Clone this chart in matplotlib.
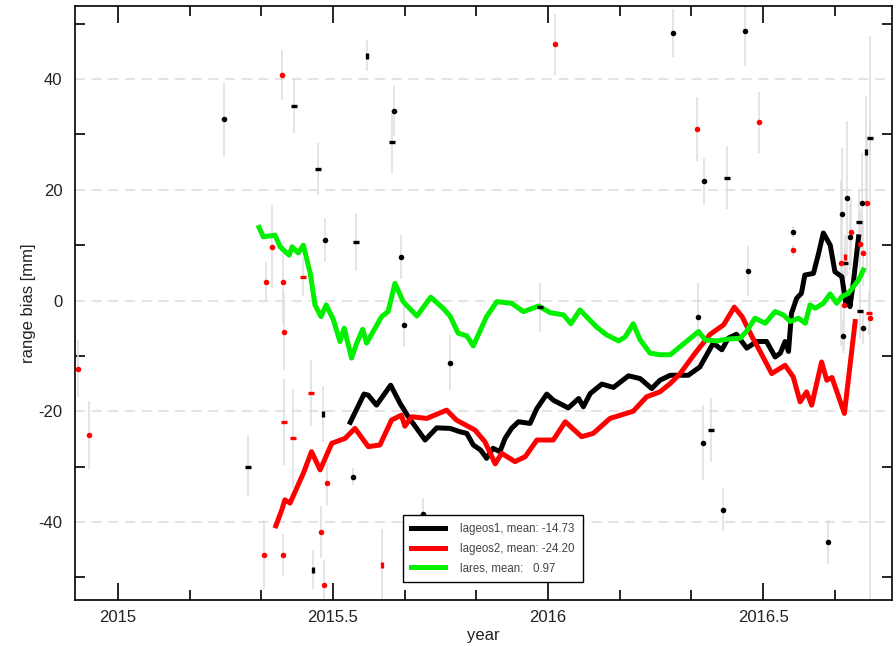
import matplotlib
matplotlib.use("Agg")
import matplotlib.pyplot as plt
from matplotlib.ticker import MultipleLocator

plt.rcParams['font.family'] = ['Liberation Sans', 'DejaVu Sans']
plt.rcParams['axes.unicode_minus'] = False

# running-mean range bias curves (year, mm)
t_lageos1 = [2015.540, 2015.572, 2015.582, 2015.601, 2015.634, 2015.656, 2015.675, 2015.714,
             2015.741, 2015.772, 2015.795, 2015.811, 2015.826, 2015.843, 2015.857, 2015.872,
             2015.888, 2015.900, 2015.915, 2015.931, 2015.958, 2015.974, 2015.997, 2016.012,
             2016.047, 2016.071, 2016.082, 2016.098, 2016.125, 2016.152, 2016.187, 2016.214,
             2016.241, 2016.260, 2016.284, 2016.326, 2016.353, 2016.384, 2016.404, 2016.419,
             2016.438, 2016.462, 2016.485, 2016.508, 2016.528, 2016.540, 2016.551, 2016.559,
             2016.566, 2016.578, 2016.589, 2016.597, 2016.617, 2016.628, 2016.640, 2016.656,
             2016.667, 2016.683, 2016.693, 2016.698, 2016.702, 2016.710, 2016.722]
v_lageos1 = [-22.0, -16.9, -17.1, -18.9, -15.3, -18.6, -21.0, -25.2,
             -23.0, -23.1, -23.7, -24.0, -26.1, -27.0, -28.5, -26.7,
             -27.3, -24.9, -23.1, -21.9, -22.2, -19.5, -16.9, -18.0,
             -19.4, -17.7, -19.2, -16.8, -15.1, -15.7, -13.6, -14.1,
             -15.9, -14.4, -13.5, -13.5, -12.0, -7.7, -8.9, -6.8,
             -6.1, -8.6, -7.4, -7.4, -10.2, -9.5, -7.4, -9.2,
             -2.3, 0.4, 1.3, 4.6, 4.9, 8.2, 12.2, 10.0,
             5.2, 4.3, -0.8, 0.7, -1.1, 3.4, 11.5]

t_lageos2 = [2015.367, 2015.381, 2015.388, 2015.400, 2015.412, 2015.431, 2015.450, 2015.470,
             2015.497, 2015.528, 2015.551, 2015.582, 2015.609, 2015.636, 2015.659, 2015.667,
             2015.683, 2015.718, 2015.764, 2015.787, 2015.830, 2015.853, 2015.877, 2015.892,
             2015.923, 2015.947, 2015.974, 2016.012, 2016.040, 2016.078, 2016.105, 2016.144,
             2016.198, 2016.229, 2016.260, 2016.284, 2016.307, 2016.342, 2016.377, 2016.408,
             2016.433, 2016.451, 2016.474, 2016.493, 2016.520, 2016.551, 2016.570, 2016.586,
             2016.601, 2016.613, 2016.636, 2016.648, 2016.660, 2016.689, 2016.714]
v_lageos2 = [-40.7, -37.8, -36.0, -36.6, -34.5, -31.2, -27.3, -30.6,
             -25.8, -24.9, -23.1, -26.4, -26.1, -21.6, -20.7, -22.7,
             -21.0, -21.3, -19.8, -21.6, -23.4, -25.5, -29.5, -27.6,
             -29.1, -28.2, -25.2, -25.2, -21.9, -24.6, -24.0, -21.3,
             -20.0, -17.4, -16.5, -15.0, -13.2, -9.5, -6.1, -4.4,
             -1.2, -2.9, -6.5, -9.2, -13.2, -11.7, -13.8, -18.3,
             -16.5, -18.9, -11.1, -14.4, -13.9, -20.4, -3.8]

t_lares = [2015.328, 2015.338, 2015.365, 2015.377, 2015.398, 2015.405, 2015.419, 2015.431,
           2015.447, 2015.458, 2015.472, 2015.484, 2015.501, 2015.516, 2015.526, 2015.543,
           2015.555, 2015.569, 2015.578, 2015.613, 2015.628, 2015.644, 2015.663, 2015.695,
           2015.727, 2015.756, 2015.772, 2015.791, 2015.811, 2015.826, 2015.857, 2015.881,
           2015.915, 2015.943, 2015.978, 2016.005, 2016.036, 2016.053, 2016.074, 2016.113,
           2016.136, 2016.164, 2016.179, 2016.198, 2016.214, 2016.237, 2016.260, 2016.284,
           2016.350, 2016.365, 2016.392, 2016.415, 2016.447, 2016.463, 2016.481, 2016.505,
           2016.528, 2016.547, 2016.563, 2016.582, 2016.598, 2016.609, 2016.621, 2016.640,
           2016.656, 2016.671, 2016.683, 2016.698, 2016.710, 2016.722, 2016.733]
v_lares = [13.2, 11.5, 11.8, 9.7, 8.2, 9.7, 8.6, 10.0,
           4.9, -0.8, -2.9, -0.8, -3.5, -7.4, -5.0, -10.4,
           -7.7, -5.2, -7.7, -2.9, -2.0, 3.1, -0.2, -2.8,
           0.6, -1.4, -2.8, -5.9, -6.4, -8.2, -2.9, -0.2,
           -0.5, -2.0, -1.0, -2.2, -2.6, -4.2, -1.7, -4.8,
           -6.2, -7.3, -6.6, -4.2, -7.1, -9.5, -9.8, -9.8,
           -5.6, -7.1, -7.3, -7.0, -6.8, -5.4, -3.2, -4.1,
           -2.0, -2.6, -3.8, -3.2, -4.1, -0.8, -1.4, -0.5,
           1.2, -0.5, 0.7, 1.3, 2.5, 3.7, 5.5]

# single normal points: year, bias, error
k_dot_t = [2015.247, 2015.481, 2015.642, 2015.658, 2015.665, 2015.772, 2015.546, 2015.710,
           2016.291, 2016.458, 2016.363, 2016.465, 2016.349, 2016.360, 2016.406, 2016.650,
           2016.570, 2016.683, 2016.696, 2016.729, 2016.702, 2016.685, 2016.732]
k_dot_v = [32.7, 10.9, 34.2, 7.9, -4.4, -11.2, -31.8, -38.6,
           48.3, 48.6, 21.5, 5.4, -2.9, -25.7, -37.8, -43.6,
           12.4, 15.6, 18.5, 17.7, 11.5, -6.4, -4.9]
k_dot_e = [6.8, 4.0, 4.5, 4.0, 4.0, 5.0, 1.5, 3.0,
           4.4, 6.2, 4.2, 4.5, 6.0, 6.8, 3.9, 4.0,
           1.0, 12.0, 14.0, 9.0, 6.0, 3.0, 3.0]

k_dash_t = [2015.303, 2015.409, 2015.464, 2015.553, 2015.636, 2015.981, 2016.416, 2016.379,
            2016.723, 2016.726, 2016.691, 2016.749]
k_dash_v = [-30.0, 35.2, 23.7, 10.6, 28.7, -1.2, 22.2, -23.4,
            14.2, -1.9, 6.8, 29.3]
k_dash_e = [5.5, 5.0, 4.7, 5.2, 5.8, 4.4, 5.7, 5.7,
            6.0, 5.0, 3.0, 3.0]

k_bar_t = [2015.580, 2015.477, 2016.739, 2015.454]
k_bar_v = [44.2, -20.5, 26.9, -48.6]
k_bar_e = [2.8, 5.0, 10.0, 3.5]

r_dot_t = [2014.906, 2014.933, 2015.381, 2015.359, 2015.344, 2015.384, 2015.387, 2016.015,
           2016.347, 2016.491, 2015.340, 2015.384, 2015.487, 2015.471, 2015.479, 2016.570,
           2016.705, 2016.726, 2016.733, 2016.681, 2016.689, 2016.742, 2016.749]
r_dot_v = [-12.3, -24.3, 40.7, 9.6, 3.3, 3.3, -5.6, 46.3,
           31.0, 32.2, -45.9, -45.9, -33.0, -41.9, -51.4, 9.1,
           12.3, 10.2, 8.6, 6.8, -0.9, 17.7, -3.2]
r_dot_e = [5.2, 6.1, 4.5, 7.6, 3.6, 7.5, 7.0, 5.5,
           5.8, 5.5, 6.3, 3.8, 4.0, 4.7, 4.5, 1.0,
           6.0, 6.0, 6.0, 15.0, 8.0, 12.0, 51.0]

r_dash_t = [2015.430, 2015.408, 2015.449, 2016.747, 2015.387]
r_dash_v = [4.3, -24.9, -16.7, -2.3, -22.0]
r_dash_e = [3.4, 9.0, 6.0, 4.0, 7.8]

r_bar_t = [2015.613, 2016.691]
r_bar_v = [-47.7, 7.9]
r_bar_e = [6.5, 4.0]

legend_labels = ['lageos1, mean: -14.73', 'lageos2, mean: -24.20', 'lares, mean:   0.97']

fig = plt.figure(figsize=(8.96, 6.46), dpi=100)
ax = fig.add_axes([0.0837, 0.0712, 0.912, 0.9195])

grey = '#dedede'
for t, v, e in [(k_dot_t, k_dot_v, k_dot_e), (k_dash_t, k_dash_v, k_dash_e),
                (k_bar_t, k_bar_v, k_bar_e), (r_dot_t, r_dot_v, r_dot_e),
                (r_dash_t, r_dash_v, r_dash_e), (r_bar_t, r_bar_v, r_bar_e)]:
    ax.errorbar(t, v, yerr=e, fmt='none', ecolor=grey, elinewidth=1.1, capsize=0, zorder=1)

l1, = ax.plot(t_lageos1, v_lageos1, color='black', lw=3.6, zorder=3)
l2, = ax.plot(t_lageos2, v_lageos2, color='#ff0000', lw=3.6, zorder=3)
l3, = ax.plot(t_lares, v_lares, color='#00f000', lw=3.6, zorder=3)

ax.plot(k_dot_t, k_dot_v, 'o', color='black', ms=4, mew=0, zorder=4)
ax.plot(k_dash_t, k_dash_v, '_', color='black', ms=5, mew=2.4, zorder=4)
ax.plot(k_bar_t, k_bar_v, '|', color='black', ms=4, mew=2.4, zorder=4)
ax.plot(r_dot_t, r_dot_v, 'o', color='#ff0000', ms=4, mew=0, zorder=4)
ax.plot(r_dash_t, r_dash_v, '_', color='#ff0000', ms=5, mew=2.4, zorder=4)
ax.plot(r_bar_t, r_bar_v, '|', color='#ff0000', ms=4, mew=2.4, zorder=4)

ax.set_xlim(2014.9, 2016.8)
ax.set_ylim(-54.1, 53.2)

ax.xaxis.set_major_locator(MultipleLocator(0.5))
ax.xaxis.set_minor_locator(MultipleLocator(1 / 6))
ax.yaxis.set_major_locator(MultipleLocator(20))
ax.yaxis.set_minor_locator(MultipleLocator(10))
ax.xaxis.set_major_formatter(matplotlib.ticker.FuncFormatter(lambda x, p: '%g' % x))

ax.tick_params(which='both', direction='in', top=True, right=True, labelsize=12, width=1.2,
               labelcolor='#222222')
ax.tick_params(axis='x', which='major', length=12, pad=7)
ax.tick_params(axis='x', which='minor', length=7)
ax.tick_params(axis='y', which='major', length=0, pad=9)
ax.tick_params(axis='y', which='minor', length=7)

ax.grid(axis='y', which='major', color=grey, linestyle=(0, (6, 4)), lw=1.2)
ax.set_axisbelow(True)
for s in ax.spines.values():
    s.set_linewidth(1.2)

ax.set_xlabel('year', fontsize=12, labelpad=2, color='#222222')
ax.set_ylabel('range bias [mm]', fontsize=12, labelpad=1.5, color='#222222')

leg = ax.legend([l1, l2, l3], legend_labels, loc='lower left', bbox_to_anchor=(0.401, 0.03),
                fontsize=8.3, handlelength=3.0, handletextpad=1.3, borderaxespad=0,
                fancybox=False, framealpha=1, edgecolor='black', labelspacing=0.65,
                borderpad=0.7, labelcolor='#444444')
leg.get_frame().set_linewidth(1.0)

fig.savefig('out.png', dpi=100)
